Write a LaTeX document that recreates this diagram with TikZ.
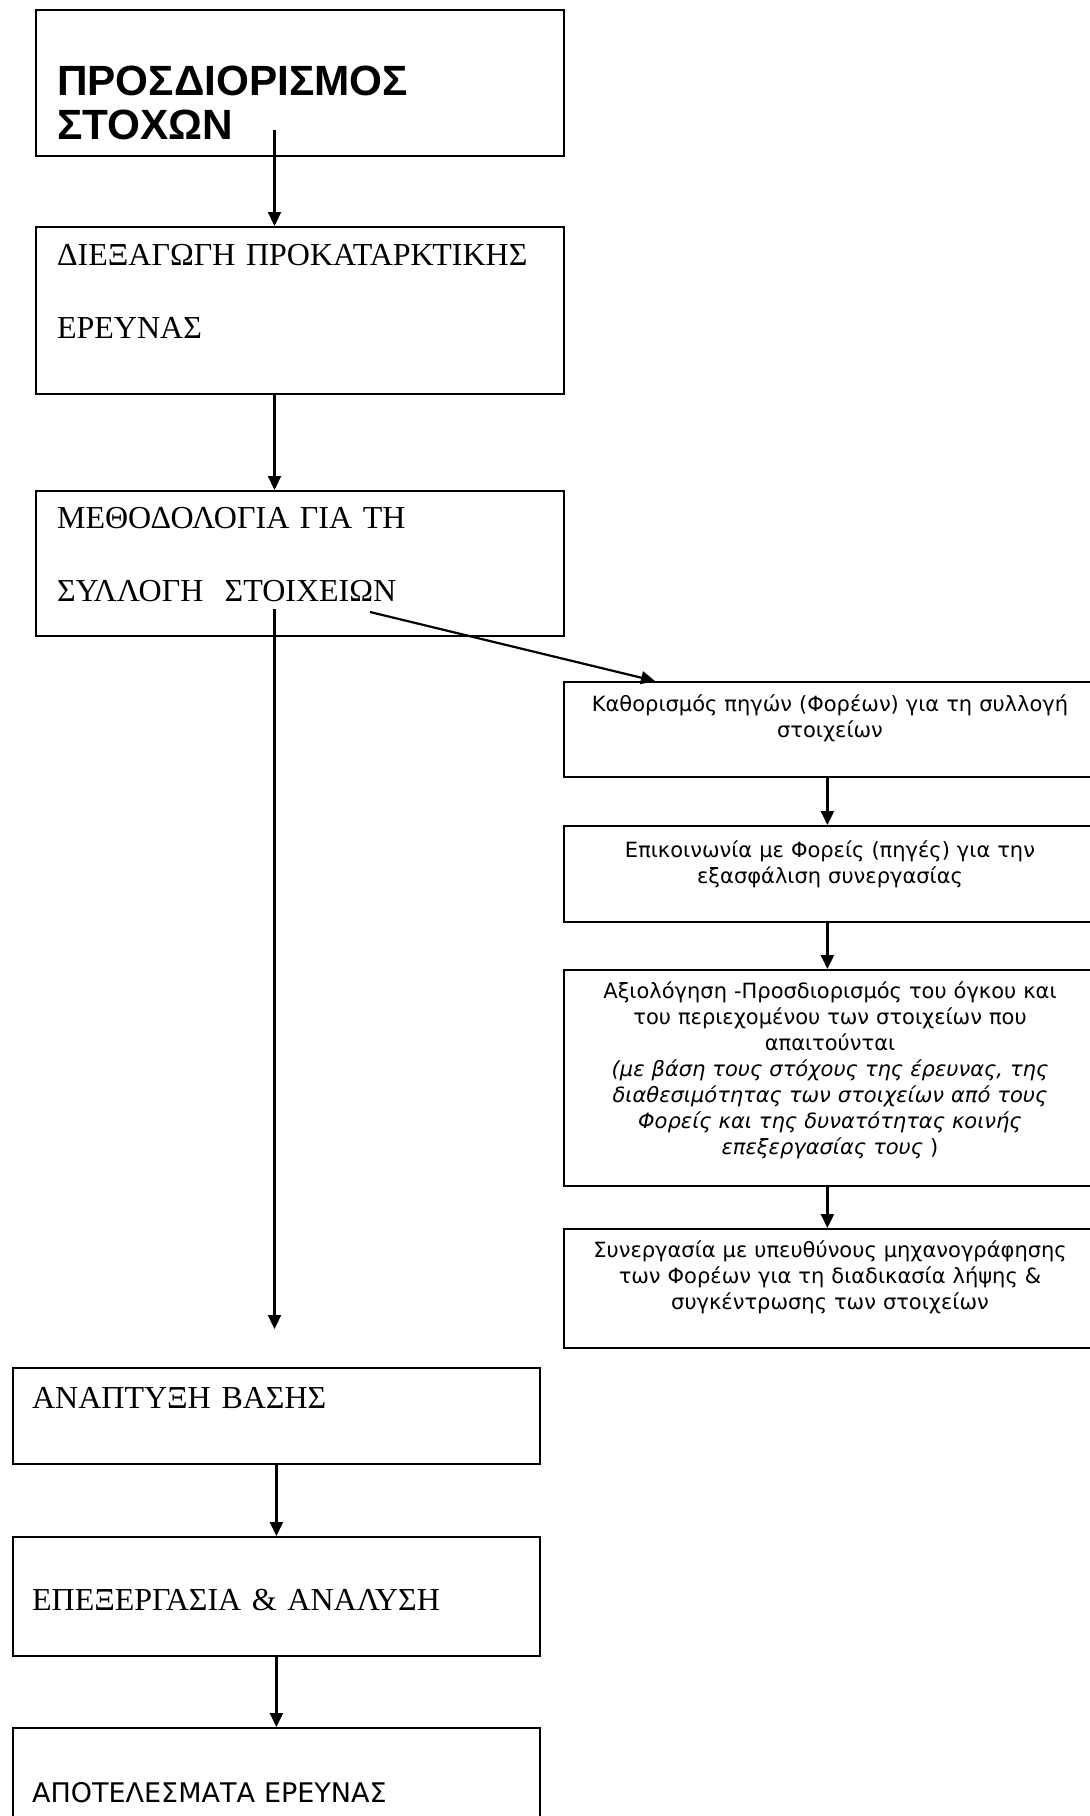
\documentclass[tikz,border=0pt]{standalone}
\usepackage{fontspec}
\setmainfont{Liberation Serif}
\newfontfamily\arialfont{Liberation Sans}
\newfontfamily\verdfont{DejaVu Sans}
\usetikzlibrary{positioning,calc,arrows.meta}

\begin{document}
\begin{tikzpicture}[->,>={Triangle[length=14pt,width=13pt]},x=1pt,y=-1pt,
    line width=2.2pt,
    box/.style={draw,rectangle,line width=1.8pt,anchor=north west,inner sep=0pt},
    left text/.style={inner sep=0pt,anchor=base west,align=left,text width=#1},
    title/.style={font=\arialfont\bfseries\fontsize{42.3}{44}\selectfont},
    roman/.style={font=\fontsize{32}{73.5}\selectfont},
    side text/.style={inner sep=0pt,anchor=base,align=center,text width=520pt,
      font=\verdfont\fontsize{21}{26}\selectfont}]

    \useasboundingbox (0,0) rectangle (1090,1816);
    \clip (0,0) rectangle (1090,1816);

    % main column, upper part
    \node[box,minimum width=528pt,minimum height=146pt] (goals) at (35,9) {};
    \node[box,minimum width=528pt,minimum height=167pt] (prelim) at (35,226) {};
    \node[box,minimum width=528pt,minimum height=145pt] (method) at (35,490) {};

    \node[left text=480pt,title] (goals txt) at (56,95) {ΠΡΟΣΔΙΟΡΙΣΜΟΣ\\ΣΤΟΧΩΝ};
    \node[left text=500pt,roman] (prelim txt) at (56,265) {ΔΙΕΞΑΓΩΓΗ ΠΡΟΚΑΤΑΡΚΤΙΚΗΣ\\ΕΡΕΥΝΑΣ};
    \node[left text=500pt,roman] (method txt) at (56,528) {ΜΕΘΟΔΟΛΟΓΙΑ ΓΙΑ ΤΗ\\ΣΥΛΛΟΓΗ\ \ ΣΤΟΙΧΕΙΩΝ};

    % side column
    \node[box,minimum width=527pt,minimum height=95pt] (sources) at (563,681) {};
    \node[box,minimum width=527pt,minimum height=96pt] (contact) at (563,825) {};
    \node[box,minimum width=527pt,minimum height=216pt] (assess) at (563,969) {};
    \node[box,minimum width=527pt,minimum height=119pt] (collect) at (563,1228) {};

    \node[side text] (sources txt) at (830,711) {Καθορισμός πηγών (Φορέων) για τη συλλογή\\στοιχείων};
    \node[side text] (contact txt) at (830,857) {Επικοινωνία με Φορείς (πηγές) για την\\εξασφάλιση συνεργασίας};
    \node[side text] (assess txt) at (830,998) {Αξιολόγηση -Προσδιορισμός του όγκου και\\του περιεχομένου των στοιχείων που\\απαιτούνται\\
      \itshape(με βάση τους στόχους της έρευνας, της\\διαθεσιμότητας των στοιχείων από τους\\Φορείς και της δυνατότητας κοινής\\επεξεργασίας τους \upshape)};
    \node[side text] (collect txt) at (830,1257) {Συνεργασία με υπευθύνους μηχανογράφησης\\των Φορέων για τη διαδικασία λήψης \&\\συγκέντρωσης των στοιχείων};

    % main column, lower part
    \node[box,minimum width=527pt,minimum height=96pt] (base) at (12,1367) {};
    \node[box,minimum width=527pt,minimum height=119pt] (proc) at (12,1536) {};
    \node[box,minimum width=527pt,minimum height=120pt] (result) at (12,1727) {};

    \node[left text=500pt,roman] (base txt) at (31,1408) {ΑΝΑΠΤΥΞΗ ΒΑΣΗΣ};
    \node[left text=500pt,roman] (proc txt) at (31,1610) {ΕΠΕΞΕΡΓΑΣΙΑ \& ΑΝΑΛΥΣΗ};
    \node[left text=500pt,font=\verdfont\fontsize{27}{32}\selectfont] (result txt) at (31,1802) {ΑΠΟΤΕΛΕΣΜΑΤΑ ΕΡΕΥΝΑΣ};

    % connector ends
    \coordinate (spine) at (274.5,0);
    \coordinate (goals out) at (274.5,130);
    \coordinate (method out) at (274.5,609);
    \coordinate (method end) at (274.5,1329);
    \coordinate (side out) at (370,612);

    \path
    (goals out) edge (prelim.north -| spine)
    (prelim.south -| spine) edge (method.north -| spine)
    (method out) edge (method end)
    (side out) edge ($(sources.north west)+(92,0)$)
    (sources.south) edge (contact.north)
    (contact.south) edge (assess.north)
    (assess.south) edge (collect.north)
    (base.south) edge (proc.north)
    (proc.south) edge (result.north);
  \end{tikzpicture}
\end{document}
